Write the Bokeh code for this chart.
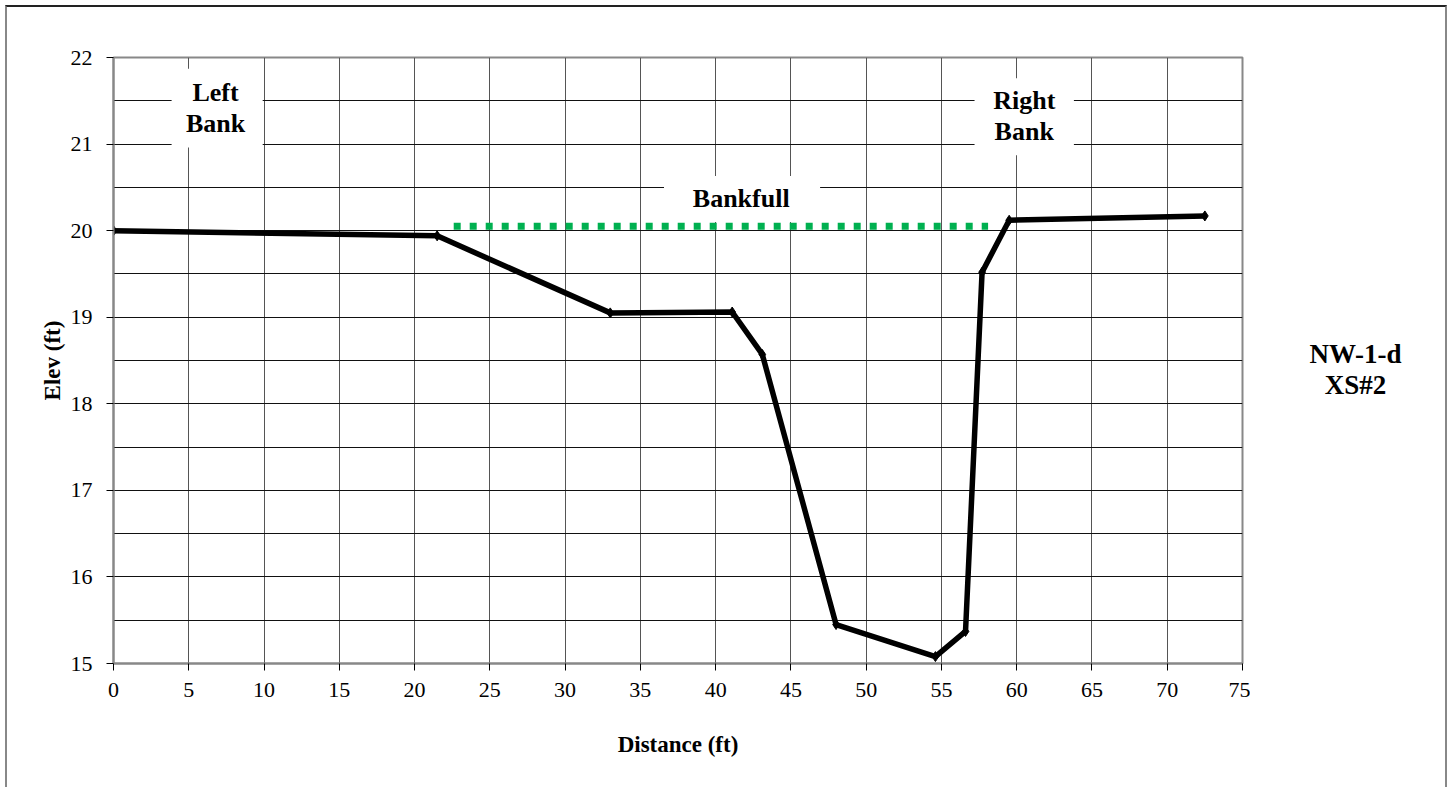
from bokeh.plotting import figure
from bokeh.layouts import row
from bokeh.models import Range1d, FixedTicker, Label, BoxAnnotation
from bokeh.core.properties import value
from bokeh.embed import file_html
from bokeh.resources import INLINE

# Data
distance = [0, 21.5, 33.0, 41.1, 43.1, 48.0, 54.6, 56.6, 57.7, 59.5, 72.5]
elevation = [20.0, 19.94, 19.05, 19.06, 18.57, 15.45, 15.08, 15.37, 19.52, 20.12, 20.17]
bankfull_x = [22.6, 58.1]
bankfull_y = [20.05, 20.05]
x_ticks = [0, 5, 10, 15, 20, 25, 30, 35, 40, 45, 50, 55, 60, 65, 70, 75]
y_ticks = [15, 16, 17, 18, 19, 20, 21, 22]
y_grid = [15, 15.5, 16, 16.5, 17, 17.5, 18, 18.5, 19, 19.5, 20, 20.5, 21, 21.5, 22]
title_lines = ["NW-1-d", "XS#2"]

FONT = "Liberation Serif"

p = figure(width=1243, height=780, output_backend="svg", toolbar_location=None,
           x_range=Range1d(0, 75), y_range=Range1d(15, 22),
           min_border_left=106, min_border_right=8, min_border_top=50,
           min_border_bottom=124)

p.outline_line_color = "#888888"
p.outline_line_width = 2

p.xaxis.ticker = FixedTicker(ticks=x_ticks)
p.yaxis.ticker = FixedTicker(ticks=y_ticks)
p.xgrid.ticker = FixedTicker(ticks=x_ticks)
p.ygrid.ticker = FixedTicker(ticks=y_grid)
p.xgrid.grid_line_color = "#555555"
p.ygrid.grid_line_color = "#111111"
p.xgrid.grid_line_width = 1
p.ygrid.grid_line_width = 1

xa = p.xaxis[0]
ya = p.yaxis[0]
for ax in (xa, ya):
    ax.axis_line_color = "#888888"
    ax.axis_line_width = 2
    ax.major_tick_line_color = "black"
    ax.major_tick_in = 0
    ax.major_tick_out = 7
    ax.minor_tick_line_color = None
    ax.major_label_text_font = FONT
    ax.major_label_text_font_size = "22px"
    ax.major_label_text_color = "black"
    ax.axis_label_text_font = FONT
    ax.axis_label_text_font_size = "23px"
    ax.axis_label_text_font_style = "bold"
    ax.axis_label_text_color = "black"

xa.axis_label = "Distance (ft)"
ya.axis_label = "Elev (ft)"
xa.major_label_standoff = 12
ya.major_label_standoff = 14
xa.axis_label_standoff = 32
ya.axis_label_standoff = 3

# white label boxes
for l, r, b, t in [(3.86, 9.91, 20.96, 21.87), (57.2, 63.8, 20.87, 21.76), (36.57, 46.94, 20.1, 20.63)]:
    p.add_layout(BoxAnnotation(left=l, right=r, bottom=b, top=t, fill_color="white",
                               fill_alpha=1, line_color=None, level="underlay"))

p.line(bankfull_x, bankfull_y, line_color="#00B050", line_width=7, line_dash="7 9")
p.line(distance, elevation, line_color="black", line_width=5.5)
p.scatter(distance, elevation, marker="diamond", size=10, color="black")

def lab(x, y, text, size="26px"):
    p.add_layout(Label(x=x, y=y, text=text, text_font=FONT, text_font_size=size,
                       text_font_style="bold", text_align="center",
                       text_baseline="middle", text_color="black"))

lab(6.78, 21.6, "Left")
lab(6.78, 21.24, "Bank")
lab(60.5, 21.5, "Right")
lab(60.5, 21.14, "Bank")
lab(41.7, 20.37, "Bankfull")

# side panel with the chart title (frame aligned with the main plot)
p2 = figure(width=195, height=780, output_backend="svg", toolbar_location=None,
            x_range=Range1d(0, 195), y_range=p.y_range,
            x_axis_location=None, y_axis_location=None,
            min_border_left=0, min_border_right=0, min_border_top=50, min_border_bottom=124)
p2.grid.visible = False
p2.outline_line_color = None
p2.text(x=[105, 105], y=[18.57, 18.22], text=title_lines, text_font=value(FONT),
        text_font_size="27px", text_font_style="bold", text_align="center",
        text_baseline="middle", text_color="black")

layout = row(p, p2, spacing=0,
             styles={"margin-left": "5px", "margin-top": "5px",
                     "border-top": "2px solid #222222",
                     "border-left": "2px solid #888888",
                     "border-right": "2px solid #888888"})

open("out.html", "w").write(file_html(layout, INLINE))
